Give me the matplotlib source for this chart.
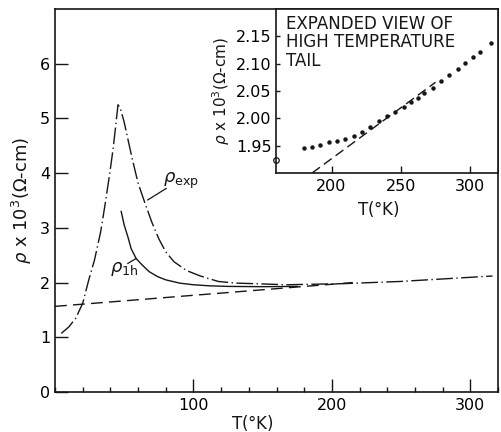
import numpy as np
import matplotlib
matplotlib.use("Agg")
import matplotlib.pyplot as plt
from matplotlib.ticker import MultipleLocator, FixedLocator, FormatStrFormatter

# data
# measured resistivity (rho_exp), T in K, rho in 10^3 ohm-cm
T_exp = [4.5, 10, 15, 20, 24.4, 28.5, 33, 36, 39.4, 42, 44, 45.5, 47, 50, 53, 56,
         60, 65, 70, 75, 80, 86, 95, 105, 118, 131, 144, 167, 208, 249, 316]
rho_exp = [1.07, 1.19, 1.35, 1.62, 2.05, 2.41, 2.93, 3.40, 3.97, 4.45, 4.90, 5.25,
           5.20, 4.93, 4.58, 4.24, 3.82, 3.45, 3.10, 2.80, 2.56, 2.38, 2.22, 2.12,
           2.02, 1.99, 1.98, 1.96, 1.98, 2.02, 2.12]

# theoretical curve (rho_1h)
T_th = [47.8, 50, 52.6, 55, 58.6, 63, 68, 74, 80, 90, 100, 112, 125, 150, 175]
rho_th = [3.30, 3.05, 2.84, 2.62, 2.44, 2.32, 2.20, 2.11, 2.05, 1.99, 1.96, 1.94,
          1.93, 1.925, 1.93]

# dashed linear background
T_lin = [0, 215]
rho_lin = [1.565, 2.00]

# inset: expanded view of high temperature tail
T_tail = [180, 186, 192, 198, 204, 210, 216, 222, 228, 234, 240, 246, 252, 257,
          262, 267, 273, 279, 285, 291, 296, 302, 307, 315]
rho_tail = [1.945, 1.948, 1.952, 1.956, 1.959, 1.963, 1.968, 1.975, 1.985, 1.995,
            2.005, 2.012, 2.020, 2.030, 2.037, 2.047, 2.055, 2.068, 2.079, 2.090,
            2.102, 2.113, 2.122, 2.138]
T_tail_lin = [186, 275]
rho_tail_lin = [1.90, 2.066]

inset_yticks = [1.95, 2.00, 2.05, 2.10, 2.15]
inset_xticks = [200, 250, 300]

INK = '#161616'
plt.rcParams['font.family'] = 'DejaVu Sans'
plt.rcParams['mathtext.fontset'] = 'dejavusans'

fig = plt.figure(figsize=(5.01, 4.32), dpi=100)

# ---- main panel
ax = fig.add_axes([55/501, 40/432, 443/501, 383/432])
ax.plot(T_exp, rho_exp, color=INK, lw=1.0, linestyle=(0, (12, 2.5, 1, 2.5)))
ax.plot(T_th, rho_th, color=INK, lw=1.0)
ax.plot(T_lin, rho_lin, color=INK, lw=1.0, linestyle=(0, (8.5, 4.5)))

ax.set_xlim(0, 320)
ax.set_ylim(0, 7)
ax.xaxis.set_major_locator(FixedLocator([100, 200, 300]))
ax.xaxis.set_minor_locator(MultipleLocator(20))
ax.yaxis.set_major_locator(FixedLocator([0, 1, 2, 3, 4, 5, 6]))
ax.tick_params(axis='x', which='major', direction='in', length=9.5, width=1.0,
               labelsize=11.5, pad=4, color=INK)
ax.tick_params(axis='x', which='minor', direction='in', length=3.6, width=1.0, color=INK)
ax.tick_params(axis='y', which='major', direction='in', length=9.5, width=1.0,
               labelsize=11.5, pad=3.5, color=INK)
for s in ax.spines.values():
    s.set_linewidth(1.2)
    s.set_color(INK)

ax.set_ylabel(r'$\rho$ x 10$^3$($\Omega$-cm)', fontsize=13, color=INK)
ax.set_xlabel(r'T($\degree$K)', fontsize=12, color=INK)
ax.xaxis.set_label_coords(0.445, -0.055)

# curve labels with leader lines
ax.plot([67, 80.3], [3.51, 3.72], color=INK, lw=0.9)
ax.text(78, 3.85, r'$\rho_{\mathrm{exp}}$', fontsize=13, va='center', ha='left', color=INK)
ax.plot([52.6, 58.6], [2.35, 2.44], color=INK, lw=0.9)
ax.text(39.4, 2.25, r'$\rho_{\mathrm{1h}}$', fontsize=13, va='center', ha='left', color=INK)

# ---- inset
ins = fig.add_axes([276/501, 259/432, 222/501, 164/432])
ins.plot(T_tail, rho_tail, linestyle='none', marker='o', markersize=2.2, color=INK)
ins.plot(T_tail_lin, rho_tail_lin, color=INK, lw=1.0, linestyle=(0, (7, 3.5)))
ins.plot([160], [1.924], marker='o', markersize=4, mfc='white', mec=INK, mew=0.9,
         clip_on=False)

ins.set_xlim(160, 320)
ins.set_ylim(1.90, 2.20)
ins.xaxis.set_major_locator(FixedLocator(inset_xticks))
ins.yaxis.set_major_locator(FixedLocator(inset_yticks))
ins.yaxis.set_major_formatter(FormatStrFormatter('%.2f'))
ins.tick_params(axis='x', direction='in', length=5, width=1.0, labelsize=11.5, pad=4,
                color=INK)
ins.tick_params(axis='y', direction='in', length=3, width=1.0, labelsize=11.5, pad=3,
                color=INK)
for s in ins.spines.values():
    s.set_linewidth(1.2)
    s.set_color(INK)

ins.set_ylabel(r'$\rho$ x 10$^3$($\Omega$-cm)', fontsize=11, color=INK, labelpad=3)
ins.set_xlabel(r'T($\degree$K)', fontsize=12, color=INK)
ins.xaxis.set_label_coords(0.46, -0.16)

ins.text(0.045, 0.965, 'EXPANDED VIEW OF\nHIGH TEMPERATURE\nTAIL', transform=ins.transAxes,
         fontsize=12, va='top', ha='left', linespacing=1.05, color=INK)

fig.savefig('out.png', dpi=100)
